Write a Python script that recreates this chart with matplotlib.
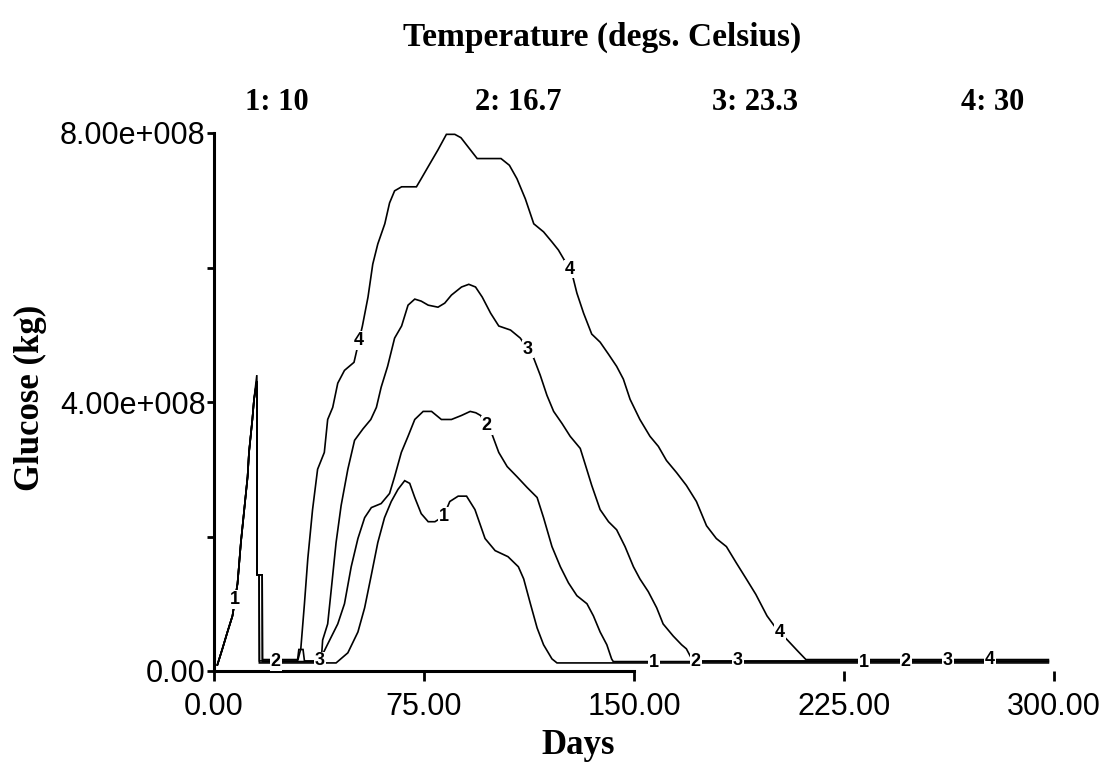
import matplotlib
matplotlib.use("Agg")
import matplotlib.pyplot as plt
import numpy as np

# ---------------- data (glucose in units of 1e8 kg) ----------------
temps = [10, 16.7, 23.3, 30]
title = "Temperature (degs. Celsius)"
xlabel = "Days"
ylabel = "Glucose (kg)"
x_ticks = [0, 75, 150, 225, 300]
x_tick_labels = ["0.00", "75.00", "150.00", "225.00", "300.00"]
y_ticks = [0, 2e8, 4e8, 6e8, 8e8]
y_tick_labels = ["0.00", "", "4.00e+008", "", "8.00e+008"]

s1_days = [1.2, 3, 4.8, 6.6, 8.4, 9.6, 10.8, 12, 12.5, 13.7, 14.3, 15.3, 15.4, 16.1, 16.2,
           43.6, 47.8, 51.4, 53.8, 56.2, 58.5, 60.9, 63.3, 65.7, 68.1, 69.9, 71.7, 74, 76.5,
           78.9, 82, 84.2, 87.2, 90.2, 93.2, 96.8, 100.4, 105, 108.7, 110.6, 113, 115.4,
           117.7, 120.7, 122.5, 298]
s1_vals = [0.09, 0.33, 0.58, 0.82, 1.3, 1.91, 2.4, 2.89, 3.25, 3.74, 4.04, 4.4, 1.43, 1.43, 0.12,
           0.12, 0.27, 0.58, 0.94, 1.43, 1.91, 2.28, 2.52, 2.7, 2.83, 2.79, 2.58, 2.34, 2.22,
           2.22, 2.3, 2.52, 2.6, 2.6, 2.4, 1.97, 1.79, 1.7, 1.55, 1.37, 1.0, 0.64,
           0.39, 0.18, 0.12, 0.12]

s2_days = [1.2, 3, 4.8, 6.6, 8.4, 9.6, 10.8, 12, 12.5, 13.7, 14.3, 15.3, 15.4, 17.2, 17.3,
           37.5, 40.6, 44.2, 46.6, 49, 51.4, 53.8, 56.2, 59.7, 62.7, 64.5, 66.9, 69.3, 71.7,
           74.7, 77.7, 81.2, 84.8, 88.4, 91.5, 93.5, 95.2, 99.3, 101.7, 104.7, 108.2, 111.8,
           115.4, 117.7, 120.7, 123.7, 126.6, 129.6, 133.2, 135.5, 137.9, 140.3, 142, 142.6, 298]
s2_vals = [0.09, 0.33, 0.58, 0.82, 1.3, 1.91, 2.4, 2.89, 3.25, 3.74, 4.04, 4.31, 1.43, 1.43, 0.14,
           0.14, 0.4, 0.7, 1.0, 1.55, 1.97, 2.28, 2.43, 2.49, 2.64, 2.89, 3.25, 3.49, 3.74,
           3.86, 3.86, 3.74, 3.74, 3.8, 3.86, 3.84, 3.8, 3.52, 3.25, 3.04, 2.89, 2.73,
           2.58, 2.28, 1.85, 1.55, 1.31, 1.12, 1.0, 0.82, 0.58, 0.39, 0.18, 0.14, 0.14]

s3_days = [1.2, 3, 4.8, 6.6, 8.4, 9.6, 10.8, 12, 12.5, 13.7, 14.3, 15.3, 15.4, 16.1, 16.2,
           29.8, 30.3, 31.8, 32.3, 38.3, 38.8, 40.6, 41.8, 43.6, 45.4, 47.8, 50.2, 53.2, 56,
           58, 59.7, 62, 64.5, 67, 69.3, 71.7, 74, 76.5, 80, 82.4, 84.8, 88.4, 91, 93.4,
           95.8, 98.8, 101.7, 105.9, 109.4, 114.2, 116.5, 118.9, 121.3, 124.3, 127.2, 130.8,
           132.6, 134.9, 137.9, 140.9, 143.8, 146.8, 149.8, 152.1, 155.1, 158.1, 160.4, 164,
           167, 168.7, 171, 298]
s3_vals = [0.09, 0.33, 0.58, 0.82, 1.3, 1.91, 2.4, 2.89, 3.25, 3.74, 4.04, 4.31, 1.43, 1.43, 0.15,
           0.15, 0.32, 0.32, 0.15, 0.15, 0.46, 0.7, 1.18, 1.91, 2.46, 3.0, 3.43, 3.6, 3.74,
           3.92, 4.22, 4.53, 4.95, 5.13, 5.44, 5.53, 5.5, 5.44, 5.41, 5.47, 5.59, 5.71, 5.75, 5.71,
           5.56, 5.32, 5.13, 5.07, 4.95, 4.65, 4.4, 4.1, 3.86, 3.68, 3.49, 3.31,
           3.07, 2.76, 2.4, 2.22, 2.1, 1.85, 1.55, 1.37, 1.18, 0.94, 0.7, 0.52,
           0.39, 0.33, 0.15, 0.15]

s4_days = [1.2, 3, 4.8, 6.6, 8.4, 9.6, 10.8, 12, 12.5, 13.7, 14.3, 15.3, 15.4, 17.2, 17.3,
           30.0, 31.0, 32.3, 33.5, 35.2, 37, 39.4, 40.6, 42.4, 44.2, 46.6, 50, 53, 55, 56.7,
           58.5, 61, 62.7, 64.5, 67, 72.3, 74, 76.5, 80, 83, 86, 88.2, 91, 94, 102.5, 105.5,
           108.2, 111.2, 114.2, 117.7, 120.7, 123, 127.8, 129.6, 132, 134.9, 137.9, 140.9,
           143.8, 146.2, 148.6, 152.1, 155.7, 158.7, 161.6, 165.2, 168.7, 172.3, 175.9, 179.4,
           183, 186.5, 190.1, 193.5, 197.5, 201, 204.8, 208.4, 211.4, 298]
s4_vals = [0.09, 0.33, 0.58, 0.82, 1.3, 1.91, 2.4, 2.89, 3.25, 3.74, 4.04, 4.31, 1.43, 1.43, 0.17,
           0.17, 0.33, 1.0, 1.67, 2.4, 3.0, 3.25, 3.74, 3.92, 4.28, 4.47, 4.59, 5.13, 5.56, 6.05,
           6.35, 6.65, 6.96, 7.14, 7.2, 7.2, 7.32, 7.5, 7.75, 7.98, 7.98, 7.93, 7.78, 7.62, 7.62, 7.52,
           7.32, 7.02, 6.65, 6.53, 6.38, 6.26, 5.92, 5.62, 5.32, 5.01, 4.89, 4.71,
           4.53, 4.34, 4.04, 3.74, 3.49, 3.34, 3.13, 2.95, 2.76, 2.52, 2.16, 1.97,
           1.85, 1.61, 1.37, 1.14, 0.82, 0.62, 0.46, 0.3, 0.17, 0.17]

series_days = [s1_days, s2_days, s3_days, s4_days]
series_vals = [s1_vals, s2_vals, s3_vals, s4_vals]
label_days = [[7.5, 82, 157, 232], [22, 97.4, 172, 247],
              [37.8, 112, 187, 262], [51.8, 127, 202, 277]]

# ---------------- figure ----------------
W, H = 1104, 775
fig = plt.figure(figsize=(W / 100, H / 100), dpi=100)
ax = fig.add_axes([214 / W, 1 - 671 / H, 840 / W, 538 / H])

serif = ["Liberation Serif", "DejaVu Serif"]
sans = ["Liberation Sans", "DejaVu Sans"]

for i, (d, v) in enumerate(zip(series_days, series_vals)):
    d = np.array(d)
    v = np.array(v) * 1e8
    ax.plot(d, v, color="black", lw=1.2, zorder=2, solid_joinstyle="miter")
    for ld in label_days[i]:
        ax.text(ld, np.interp(ld, d, v), str(i + 1), ha="center", va="center",
                fontsize=13, fontweight="bold", family=sans, zorder=3,
                bbox=dict(facecolor="white", edgecolor="none", pad=0.6))

ax.set_xlim(0, 300)
ax.set_ylim(0, 8e8)
for s in ["top", "right"]:
    ax.spines[s].set_visible(False)
ax.spines["left"].set_linewidth(2.2)
ax.spines["bottom"].set_linewidth(2.2)
ax.spines["bottom"].set_bounds(0, 150)

ax.set_xticks(x_ticks)
ax.set_xticklabels(x_tick_labels, family=sans, fontsize=22)
ax.set_yticks(y_ticks)
ax.set_yticklabels(y_tick_labels, family=sans, fontsize=22)
ax.tick_params(axis="x", direction="out", length=7, width=2, pad=8)
ax.tick_params(axis="y", direction="out", length=5, width=2, pad=1)

fig.text(602 / W, 1 - 37 / H, title, ha="center", va="center",
         fontsize=24, fontweight="bold", family=serif)
legend_x = [277, 518, 755, 993]
for n, (t, lx) in enumerate(zip(temps, legend_x)):
    fig.text(lx / W, 1 - 103 / H, f"{n + 1}: {t}", ha="center", va="center",
             fontsize=22, fontweight="bold", family=serif)

fig.text(30 / W, 1 - 398 / H, ylabel, rotation=90, ha="center", va="center",
         fontsize=25, fontweight="bold", family=serif)
fig.text(578 / W, 1 - 745 / H, xlabel, ha="center", va="center",
         fontsize=25, fontweight="bold", family=serif)

fig.savefig("out.png", dpi=100, facecolor="white")
